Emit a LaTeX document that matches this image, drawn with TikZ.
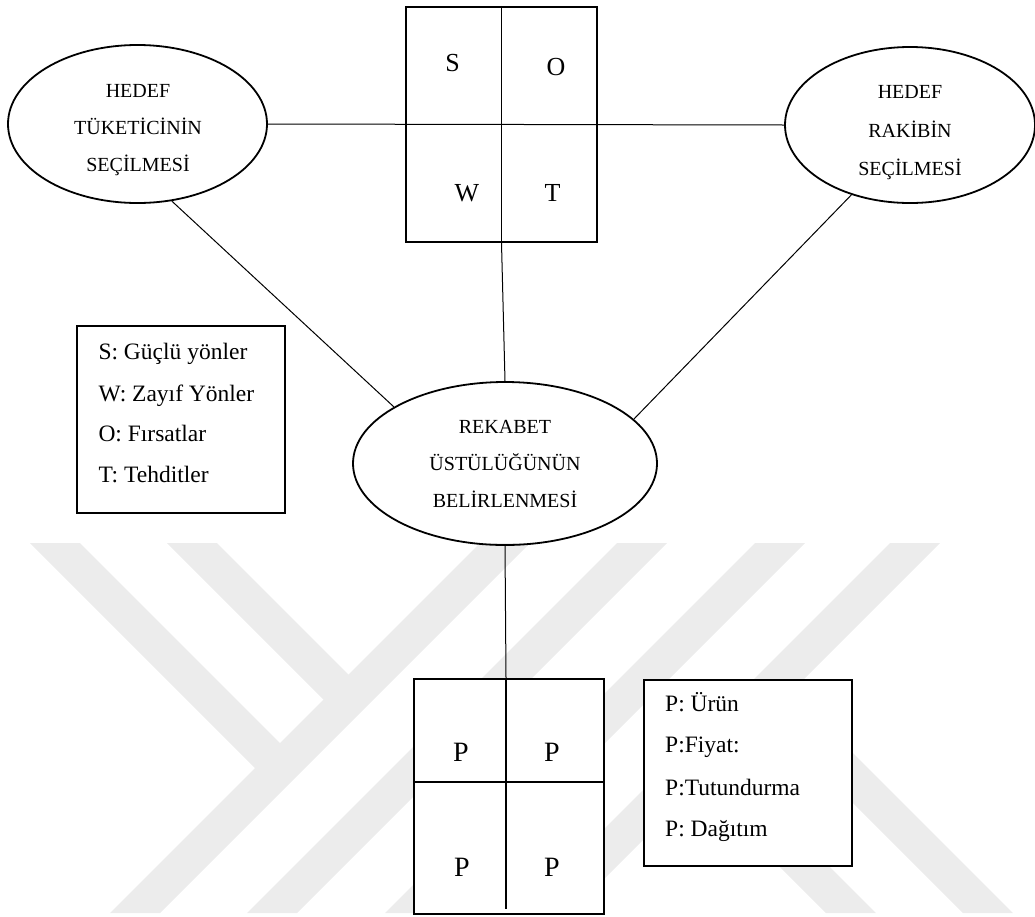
\documentclass[tikz,border=0pt]{standalone}
\usepackage{fontspec}
\setmainfont{Liberation Serif}
\usetikzlibrary{shapes.geometric,calc}
\definecolor{wm}{gray}{0.925}
\begin{document}
\begin{tikzpicture}[x=1pt,y=-1pt,
  ell/.style={ellipse, draw, line width=1.8pt, inner sep=0pt},
  quad/.style={draw, line width=2.2pt, inner sep=0pt, fill=white},
  legbox/.style={draw, line width=1.5pt, inner sep=0pt, fill=white},
  conn/.style={line width=1pt},
  divider/.style={line width=1.2pt},
  etxt/.style={font=\fontsize{20}{24}\selectfont, anchor=base, inner sep=0pt},
  ltxt/.style={font=\fontsize{23.5}{28}\selectfont, anchor=base west, inner sep=0pt},
  big/.style={font=\fontsize{26}{30}\selectfont, anchor=base, inner sep=0pt},
  pbig/.style={font=\fontsize{28}{32}\selectfont, anchor=base, inner sep=0pt},
]
\useasboundingbox (0,0) rectangle (1035,916);
% watermark
\fill[wm] (480,543) -- (530,543) -- (160,913) -- (110,913) -- cycle;
\fill[wm] (617,543) -- (667,543) -- (297,913) -- (247,913) -- cycle;
\fill[wm] (755,543) -- (805,543) -- (435,913) -- (385,913) -- cycle;
\fill[wm] (890,543) -- (940,543) -- (570,913) -- (520,913) -- cycle;
\fill[wm] (30,543) -- (80,543) -- (285,748) -- (260,773) -- cycle;
\fill[wm] (167,543) -- (217,543) -- (353.5,679.5) -- (328.5,704.5) -- cycle;
\fill[wm] (786.5,686.5) -- (1013,913) -- (963,913) -- (761.5,711.5) -- cycle;
\fill[wm] (718,755) -- (876,913) -- (826,913) -- (693,780) -- cycle;

% ellipses
\node[ell, minimum width=259pt, minimum height=158pt] (L) at (137.5,124) {};
\node[ell, minimum width=250pt, minimum height=156pt] (R) at (910,125) {};
\node[ell, minimum width=304pt, minimum height=163pt] (C) at (505,463.5) {};
\node[etxt] (L1) at (138,97) {HEDEF};
\node[etxt] (L2) at (138,134) {TÜKETİCİNİN};
\node[etxt] (L3) at (138,171) {SEÇİLMESİ};
\node[etxt] (R1) at (910,98) {HEDEF};
\node[etxt] (R2) at (910,137) {RAKİBİN};
\node[etxt] (R3) at (910,175) {SEÇİLMESİ};
\node[etxt] (C1) at (505,433.5) {REKABET};
\node[etxt] (C2) at (505,470) {ÜSTÜLÜĞÜNÜN};
\node[etxt] (C3) at (505,507) {BELİRLENMESİ};

% SWOT box
\node[quad, minimum width=191pt, minimum height=235pt] (swot) at (501.5,124.5) {};
\draw[divider] (swot.north) -- (swot.south);
\node[big] (sS) at (452.5,71.7) {S};
\node[big] (sO) at (556,75) {O};
\node[big] (sW) at (467,201.7) {W};
\node[big] (sT) at (552.5,201.7) {T};

% PPPP box
\node[quad, minimum width=190pt, minimum height=235pt] (pbox) at (509,796.5) {};
\coordinate (ptop) at ([xshift=-3pt]pbox.north);
\coordinate (pbot) at ([xshift=-3pt,yshift=6pt]pbox.south);
\coordinate (pw) at ([yshift=14.5pt]pbox.west);
\coordinate (pe) at ([yshift=14.5pt]pbox.east);
\draw[divider] (ptop) -- (pbot);
\draw[divider] (pw) -- (pe);
\node[pbig] (p1) at (461,761.7) {P};
\node[pbig] (p2) at (552,761.7) {P};
\node[pbig] (p3) at (462,876.7) {P};
\node[pbig] (p4) at (552,876.7) {P};

% legends
\node[legbox, minimum width=208pt, minimum height=187pt] (leg1) at (181,419.5) {};
\node[ltxt] (g1) at (98.3,359.3) {S: Güçlü yönler};
\node[ltxt] (g2) at (98.3,401) {W: Zayıf Yönler};
\node[ltxt] (g3) at (98.3,441.7) {O: Fırsatlar};
\node[ltxt] (g4) at (98.3,482.7) {T: Tehditler};

\node[legbox, minimum width=208pt, minimum height=186pt] (leg2) at (748,773) {};
\node[ltxt] (h1) at (665,711.7) {P: Ürün};
\node[ltxt] (h2) at (665,752.7) {P:Fiyat:};
\node[ltxt] (h3) at (665,795) {P:Tutundurma};
\node[ltxt] (h4) at (665,836) {P: Dağıtım};

% connectors
\draw[conn] (L.east) -- (R.west);
\draw[conn] (swot.south) -- (C.north);
\draw[conn] (L.-66) -- (C.153);
\draw[conn] (R.230) -- (C.19);
\draw[conn] (C.south) -- (ptop);
\end{tikzpicture}
\end{document}
